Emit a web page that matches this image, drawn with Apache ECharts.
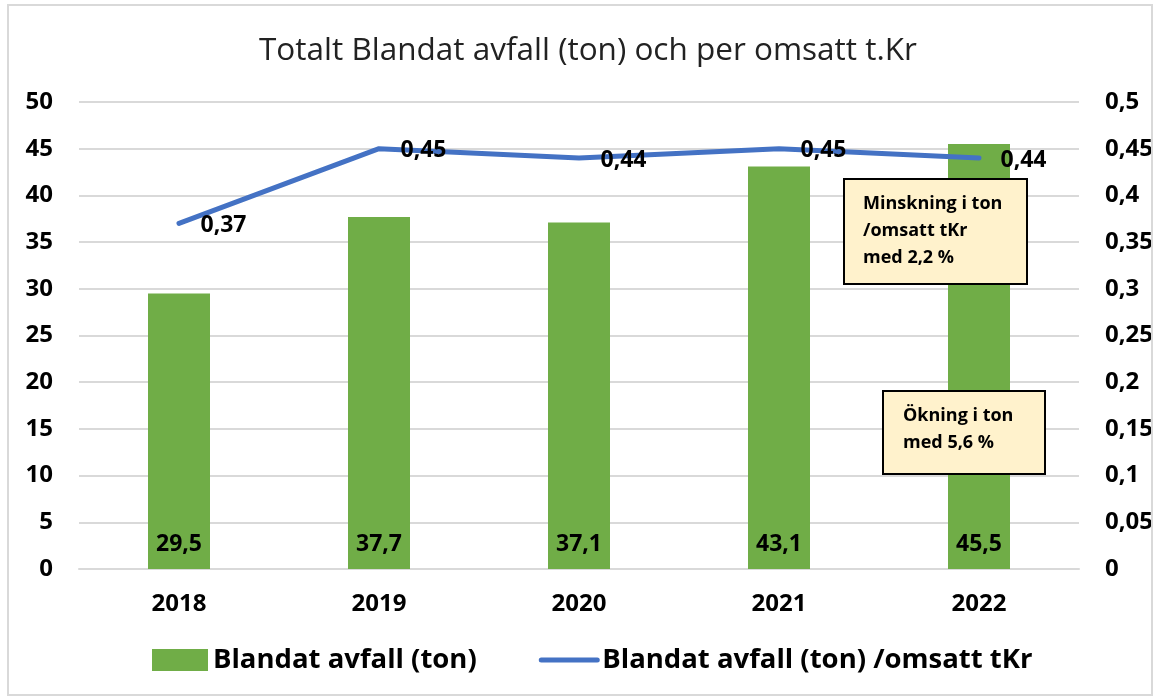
<!DOCTYPE html>
<html>
<head>
<meta charset="utf-8">
<script src="https://cdn.jsdelivr.net/npm/echarts@6/dist/echarts.min.js"></script>
<style>
  html, body { margin: 0; padding: 0; background: #fff; }
  #chart { width: 1160px; height: 698px; }
</style>
</head>
<body>
<div id="chart"></div>
<script>
// data
var years = ['2018', '2019', '2020', '2021', '2022'];
var tons = [29.5, 37.7, 37.1, 43.1, 45.5];
var perTkr = [0.37, 0.45, 0.44, 0.45, 0.44];

var font = '"Open Sans", "Noto Sans", sans-serif';
function comma(v) { return String(v).replace('.', ','); }

var myChart = echarts.init(document.getElementById('chart'));

var option = {
	backgroundColor: '#fff',
	textStyle: { fontFamily: font },
	title: {
		text: 'Totalt Blandat avfall (ton) och per omsatt t.Kr',
		left: 254,
		top: 30,
		textStyle: { fontFamily: font, fontSize: 31.5, fontWeight: 'normal', color: '#222' }
	},
	grid: { left: 79, right: 81, top: 102, bottom: 129 },
	legend: {
		bottom: 19,
		left: 147,
		itemWidth: 56,
		itemHeight: 22,
		itemGap: 62,
		textStyle: { fontFamily: font, fontSize: 27.5, fontWeight: 'bold', color: '#000' },
		data: [
			{ name: 'Blandat avfall (ton)', icon: 'rect' },
			{ name: 'Blandat avfall (ton) /omsatt tKr', itemStyle: { opacity: 0 }, lineStyle: { width: 5 } }
		]
	},
	xAxis: {
		type: 'category',
		data: years,
		axisTick: { show: false },
		axisLine: { lineStyle: { color: '#d9d9d9', width: 2 } },
		axisLabel: { margin: 23, fontSize: 24, fontWeight: 'bold', color: '#000', fontFamily: font }
	},
	yAxis: [{
		type: 'value',
		min: 0, max: 50, interval: 5,
		axisLine: { show: false },
		axisTick: { show: false },
		splitLine: { lineStyle: { color: '#d9d9d9', width: 2 } },
		axisLabel: { margin: 26, fontSize: 24, fontWeight: 'bold', color: '#000', fontFamily: font }
	}, {
		type: 'value',
		min: 0, max: 0.5, interval: 0.05,
		axisLine: { show: false },
		axisTick: { show: false },
		splitLine: { show: false },
		axisLabel: {
			align: 'left', margin: 26, fontSize: 24, fontWeight: 'bold', color: '#000', fontFamily: font,
			formatter: function(v) { return comma(+v.toFixed(2)); }
		}
	}],
	series: [{
		name: 'Blandat avfall (ton)',
		type: 'bar',
		data: tons,
		barWidth: 62,
		itemStyle: { color: '#70AD47' },
		label: {
			show: true, position: 'insideBottom', distance: 13,
			fontSize: 23, fontWeight: 'bold', color: '#000', fontFamily: font,
			formatter: function(p) { return comma(p.value); }
		}
	}, {
		name: 'Blandat avfall (ton) /omsatt tKr',
		type: 'line',
		yAxisIndex: 1,
		data: perTkr,
		symbol: 'circle',
		symbolSize: 1,
		showSymbol: true,
		lineStyle: { color: '#4472C4', width: 5, cap: 'round' },
		itemStyle: { color: '#4472C4' },
		label: {
			show: true, position: 'right', distance: 21, offset: [0, 2],
			fontSize: 23, fontWeight: 'bold', color: '#000', fontFamily: font,
			formatter: function(p) { return comma(p.value); }
		}
	}],
	graphic: [{
		type: 'rect',
		shape: { x: 8, y: 5, width: 1144, height: 690 },
		style: { fill: 'none', stroke: '#d9d9d9', lineWidth: 2 },
		silent: true,
		z: 100
	}, {
		type: 'group',
		left: 843, top: 178,
		z: 100,
		children: [{
			type: 'rect',
			z: 100,
			shape: { x: 0, y: 0, width: 183, height: 105 },
			style: { fill: '#FFF2CC', stroke: '#000', lineWidth: 2 }
		}, {
			type: 'text',
			z: 101,
			x: 19, y: 11,
			style: {
				text: 'Minskning i ton\n/omsatt tKr\nmed 2,2 %',
				font: 'bold 18px ' + font,
				lineHeight: 27,
				fill: '#000'
			}
		}]
	}, {
		type: 'group',
		left: 882, top: 390,
		z: 100,
		children: [{
			type: 'rect',
			z: 100,
			shape: { x: 0, y: 0, width: 162, height: 83 },
			style: { fill: '#FFF2CC', stroke: '#000', lineWidth: 2 }
		}, {
			type: 'text',
			z: 101,
			x: 20, y: 11,
			style: {
				text: 'Ökning i ton\nmed 5,6 %',
				font: 'bold 18px ' + font,
				lineHeight: 27,
				fill: '#000'
			}
		}]
	}]
};

myChart.setOption(option);
</script>
</body>
</html>
